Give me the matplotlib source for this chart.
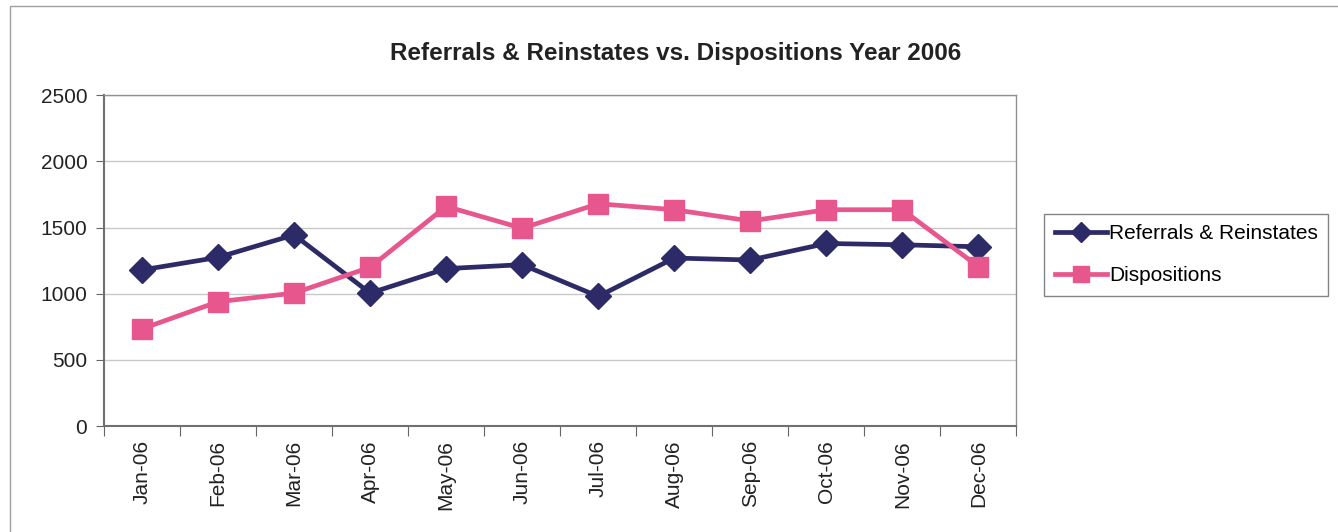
import matplotlib.pyplot as plt
from matplotlib.patches import Rectangle

months = ["Jan-06", "Feb-06", "Mar-06", "Apr-06", "May-06", "Jun-06",
          "Jul-06", "Aug-06", "Sep-06", "Oct-06", "Nov-06", "Dec-06"]
referrals = [1180, 1275, 1445, 1005, 1190, 1220, 980, 1270, 1255, 1380, 1370, 1355]
dispositions = [735, 940, 1005, 1200, 1660, 1495, 1680, 1635, 1550, 1635, 1635, 1205]
yticks = [0, 500, 1000, 1500, 2000, 2500]

plt.rcParams['font.family'] = ['Liberation Sans', 'DejaVu Sans']

navy = '#2c2b68'
pink = '#e8568e'

fig = plt.figure(figsize=(13.38, 5.32), dpi=100)
ax = fig.add_axes([0.0777, 0.199, 0.682, 0.622])

x = list(range(len(months)))
ax.plot(x, referrals, color=navy, lw=3.4, marker='D', ms=13, label='Referrals & Reinstates', zorder=3)
ax.plot(x, dispositions, color=pink, lw=3.4, marker='s', ms=14, label='Dispositions', zorder=4)

ax.set_xlim(-0.5, len(months) - 0.5)
ax.set_ylim(0, 2500)
ax.set_yticks(yticks)
ax.set_yticklabels([str(v) for v in yticks], fontsize=15, color='#222222')
ax.yaxis.grid(True, color='#c8c8c8', lw=1)
ax.set_axisbelow(True)

# category axis: ticks between categories, labels centred on points
ax.set_xticks([i - 0.5 for i in range(len(months) + 1)])
ax.set_xticklabels([])
ax.set_xticks(x, minor=True)
ax.set_xticklabels(months, minor=True, rotation=90, fontsize=15, color='#222222')
ax.tick_params(axis='x', which='minor', length=0, pad=10)
ax.tick_params(axis='x', which='major', length=7, direction='out', color='#666666')
ax.tick_params(axis='y', length=6, direction='out', color='#666666', pad=6)

for s in ['left', 'bottom']:
    ax.spines[s].set_color('#707070')
    ax.spines[s].set_linewidth(1.5)
for s in ['top', 'right']:
    ax.spines[s].set_color('#909090')
    ax.spines[s].set_linewidth(1.0)

fig.text(0.505, 0.900, 'Referrals & Reinstates vs. Dispositions Year 2006',
         ha='center', va='center', fontsize=17.5, fontweight='bold', color='#222222')

leg = ax.legend(loc='center left', bbox_to_anchor=(1.019, 0.518), fontsize=15,
                frameon=True, fancybox=False, handlelength=2.5, handletextpad=0.1,
                borderpad=0.5, labelspacing=1.1, markerscale=0.8)
leg.get_frame().set_edgecolor('#666666')
leg.get_frame().set_linewidth(1.0)

# outer chart border (right edge runs off the image)
fig.patches.append(Rectangle((0.0075, -0.02), 1.1, 1.008, transform=fig.transFigure,
                             fill=False, edgecolor='#a0a0a0', lw=1.0))

fig.savefig('out.png', dpi=100)
